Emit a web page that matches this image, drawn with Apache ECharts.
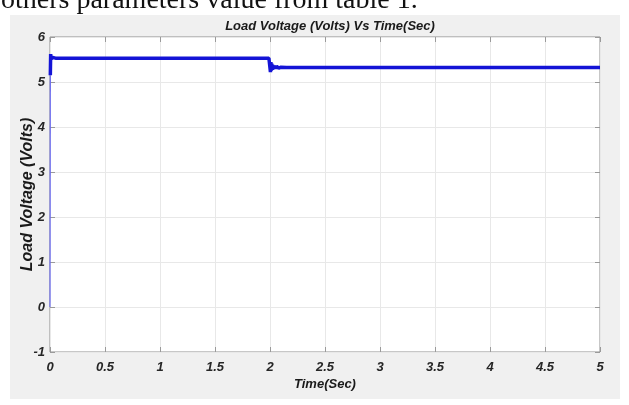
<!DOCTYPE html>
<html>
<head>
<meta charset="utf-8">
<script src="https://cdn.jsdelivr.net/npm/echarts@6/dist/echarts.min.js"></script>
<style>
  html, body { margin: 0; padding: 0; background: #fff; }
  #chart { width: 629px; height: 405px; }
</style>
</head>
<body>
<div id="chart"></div>
<script>
// Load voltage response of the converter over 5 seconds (load step at t = 2 s)
const timeSec = [0, 0.003, 0.006, 0.01, 0.015, 0.02, 0.05, 0.5, 1.0, 1.5, 1.99, 2.0,
  2.004, 2.008, 2.012, 2.016, 2.02, 2.025, 2.03, 2.04, 2.05, 2.06, 2.08, 2.1, 2.15,
  2.5, 3.0, 3.5, 4.0, 4.5, 5.0];
const loadVoltage = [0, 5.15, 5.62, 5.5, 5.55, 5.53, 5.53, 5.53, 5.53, 5.53, 5.53, 5.53,
  5.22, 5.44, 5.25, 5.41, 5.27, 5.38, 5.29, 5.36, 5.30, 5.35, 5.31, 5.33, 5.32,
  5.32, 5.32, 5.32, 5.32, 5.32, 5.32];

const xTicks = [0, 0.5, 1, 1.5, 2, 2.5, 3, 3.5, 4, 4.5, 5];
const yTicks = [-1, 0, 1, 2, 3, 4, 5, 6];

const chartTitle = 'Load Voltage (Volts) Vs Time(Sec)';
const xName = 'Time(Sec)';
const yName = 'Load Voltage (Volts)';
const captionText = 'others parameters value from table 1.';

const points = timeSec.map((t, i) => [t, loadVoltage[i]]);
// the switch-on edge is drawn as a thin trace, the settled response as a heavy one
const startupPoints = points.slice(0, 2);
const responsePoints = points.slice(1);

const labelFont = {
  fontFamily: 'Liberation Sans, Arial, sans-serif',
  fontWeight: 'bold',
  fontStyle: 'italic',
  fontSize: 13,
  color: '#262626'
};

const chart = echarts.init(document.getElementById('chart'), null, { renderer: 'canvas' });

const tickStyle = { show: true, inside: true, length: 5, lineStyle: { color: '#9a9a9a' } };

const xBase = {
  type: 'value',
  min: xTicks[0],
  max: xTicks[xTicks.length - 1],
  interval: 0.5,
  axisLine: { show: false, onZero: false },
  axisTick: tickStyle
};
const yBase = {
  type: 'value',
  min: yTicks[0],
  max: yTicks[yTicks.length - 1],
  interval: 1,
  axisLine: { show: false, onZero: false },
  axisTick: tickStyle
};

chart.setOption({
  backgroundColor: '#ffffff',
  animation: false,
  title: {
    text: chartTitle,
    left: 325,
    top: 15,
    textAlign: 'center',
    textStyle: {
      fontFamily: 'Liberation Sans, Arial, sans-serif',
      fontWeight: 'bold',
      fontStyle: 'italic',
      fontSize: 13,
      color: '#1a1a1a'
    }
  },
  graphic: [
    {
      type: 'rect',
      z: -100,
      shape: { x: 10, y: 15, width: 610, height: 384 },
      style: { fill: '#f0f0f0' }
    },
    {
      type: 'text',
      z: -50,
      x: 1,
      y: -13,
      style: {
        text: captionText,
        fontFamily: 'Liberation Serif, Times New Roman, serif',
        fontSize: 28,
        fill: '#111'
      }
    }
  ],
  grid: {
    left: 50,
    right: 29,
    top: 37,
    bottom: 53,
    outerBoundsMode: 'none',
    containLabel: false,
    show: true,
    backgroundColor: '#ffffff',
    borderColor: '#8f8f8f',
    borderWidth: 1
  },
  xAxis: [
    Object.assign({}, xBase, {
      position: 'bottom',
      name: xName,
      nameLocation: 'middle',
      nameGap: 26,
      nameMoveOverlap: false,
      nameTextStyle: Object.assign({}, labelFont, { fontSize: 13, color: '#1a1a1a' }),
      axisLabel: Object.assign({}, labelFont, { margin: 9 }),
      splitLine: { show: true, lineStyle: { color: '#e8e8e8', width: 1 } }
    }),
    Object.assign({}, xBase, {
      position: 'top',
      axisLabel: { show: false },
      splitLine: { show: false }
    })
  ],
  yAxis: [
    Object.assign({}, yBase, {
      position: 'left',
      name: yName,
      nameLocation: 'middle',
      nameGap: 14,
      nameMoveOverlap: false,
      nameTextStyle: Object.assign({}, labelFont, { fontSize: 16, color: '#1a1a1a' }),
      axisLabel: Object.assign({}, labelFont, { margin: 5 }),
      splitLine: { show: true, lineStyle: { color: '#e8e8e8', width: 1 } }
    }),
    Object.assign({}, yBase, {
      position: 'right',
      axisLabel: { show: false },
      splitLine: { show: false }
    })
  ],
  series: [
    {
      type: 'line',
      data: startupPoints,
      showSymbol: false,
      symbol: 'none',
      lineStyle: { color: '#6b6bf0', width: 1.2 },
      xAxisIndex: 0,
      yAxisIndex: 0
    },
    {
      type: 'line',
      data: responsePoints,
      showSymbol: false,
      symbol: 'none',
      lineStyle: { color: '#1414d6', width: 3.5 },
      xAxisIndex: 0,
      yAxisIndex: 0
    }
  ]
});
</script>
</body>
</html>
